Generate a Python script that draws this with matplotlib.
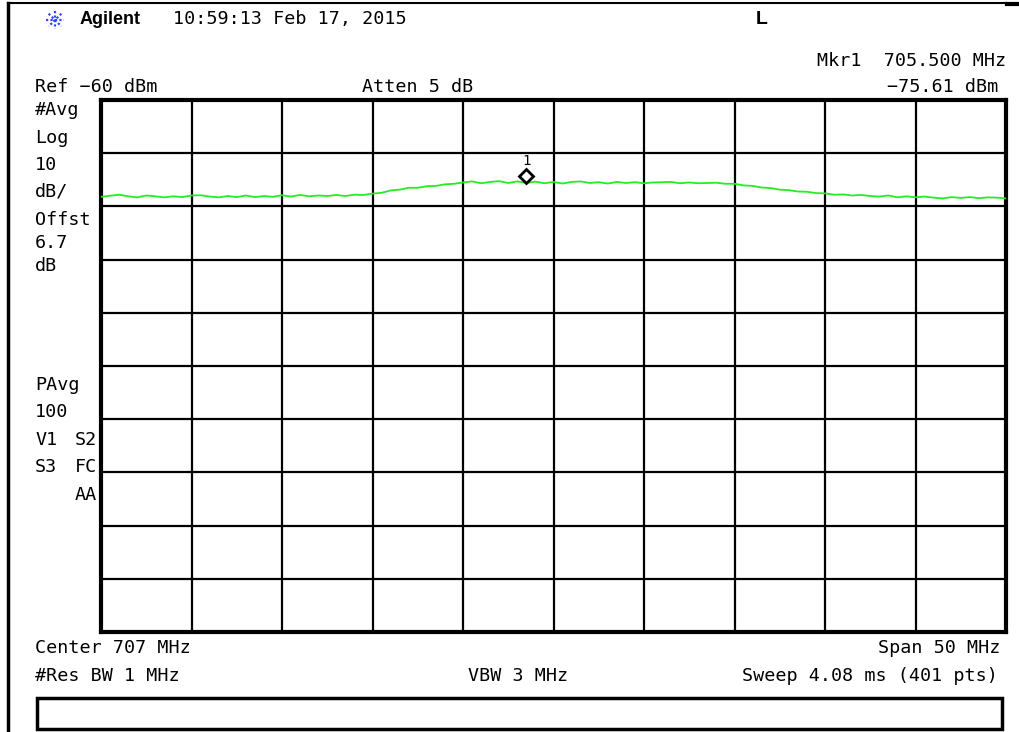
import math
import matplotlib
matplotlib.use("Agg")
import matplotlib.pyplot as plt
import matplotlib.transforms as mtransforms
from matplotlib.lines import Line2D
from matplotlib.patches import Rectangle

# ---- data ----
freq_mhz = [682.0 + 0.5 * i for i in range(101)]
level_dbm = [
    -78.2, -78.0, -77.8, -78.1, -78.3, -77.95, -78.1, -78.3, -78.1, -78.25,
    -77.95, -77.9, -78.15, -78.3, -78.05, -78.25, -77.95, -78.25, -78.05, -78.2,
    -77.9, -78.15, -77.85, -78.1, -77.95, -78.05, -77.85, -78.05, -77.8, -77.85,
    -77.6, -77.45, -77.0, -76.85, -76.5, -76.5, -76.2, -76.15, -75.85, -75.75,
    -75.5, -75.3, -75.65, -75.4, -75.25, -75.6, -75.3, -75.61, -75.35, -75.65,
    -75.4, -75.7, -75.4, -75.3, -75.6, -75.45, -75.7, -75.4, -75.6, -75.45,
    -75.65, -75.5, -75.45, -75.4, -75.65, -75.5, -75.65, -75.6, -75.55, -75.75,
    -75.75, -76.05, -76.15, -76.45, -76.55, -76.85, -76.95, -77.2, -77.25, -77.5,
    -77.55, -77.8, -77.75, -77.95, -77.85, -78.05, -78.15, -77.95, -78.3, -78.1,
    -78.3, -78.15, -78.35, -78.5, -78.25, -78.4, -78.25, -78.45, -78.3, -78.35,
    -78.5,
]
marker_freq = 705.5
marker_level = -75.61
center_mhz = 707
span_mhz = 50
ref_dbm = -60
db_per_div = 10

left_labels = ["#Avg", "Log", "10", "dB/", "Offst", "6.7", "dB"]
left_label_y = [110, 138, 165, 192, 220, 243, 266]

W, H = 1019, 732
fig = plt.figure(figsize=(W / 100, H / 100), dpi=100)
fig.patch.set_facecolor("white")

def fx(x):
    return x / W

def fy(y):
    return 1 - y / H

MONO = "DejaVu Sans Mono"
FS = 13.2

# ---- axes (graticule) ----
ax = fig.add_axes([fx(101), fy(632), 905 / W, 532 / H])
xmin, xmax = center_mhz - span_mhz / 2, center_mhz + span_mhz / 2
ymax = ref_dbm
ymin = ref_dbm - 10 * db_per_div
ax.set_xlim(xmin, xmax)
ax.set_ylim(ymin, ymax)
ax.set_xticks([xmin + k * span_mhz / 10 for k in range(11)])
ax.set_yticks([ymin + k * db_per_div for k in range(11)])
ax.grid(True, color="black", linewidth=1.6)
ax.tick_params(length=0, labelbottom=False, labelleft=False)
for s in ax.spines.values():
    s.set_linewidth(3)
    s.set_color("black")

ax.plot(freq_mhz, level_dbm, color="#22ee22", linewidth=1.3, zorder=3)

off = mtransforms.offset_copy(ax.transData, fig=fig, x=0, y=7, units="dots")
ax.plot([marker_freq], [marker_level], marker="D", markersize=7.5,
        markerfacecolor="white", markeredgecolor="black", markeredgewidth=2,
        transform=off, zorder=4, clip_on=False)
off2 = mtransforms.offset_copy(ax.transData, fig=fig, x=0, y=22, units="dots")
ax.text(marker_freq, marker_level, "1", transform=off2, ha="center", va="center",
        fontsize=10, family=MONO)

# ---- outer frame ----
fig.add_artist(Line2D([fx(8), fx(8)], [fy(3), fy(732)], color="black", linewidth=2.5))
fig.add_artist(Line2D([fx(8), fx(1007)], [fy(3), fy(3)], color="black", linewidth=1.5))
fig.add_artist(Line2D([fx(1007), fx(1019)], [fy(3.5), fy(3.5)], color="black", linewidth=3))

# bottom message box
fig.add_artist(Rectangle((fx(37), fy(729)), (1002 - 37) / W, (729 - 698) / H,
                         fill=False, edgecolor="black", linewidth=2.5))

# ---- Agilent logo ----
cx, cy, r = 55, 20, 9
for ang in [0, 45, 90, 135]:
    a = math.radians(ang)
    fig.add_artist(Line2D([fx(cx - r * math.cos(a)), fx(cx + r * math.cos(a))],
                          [fy(cy - r * math.sin(a)), fy(cy + r * math.sin(a))],
                          color="#3344ff", linewidth=1.6, linestyle=(0, (1, 1))))
fig.text(fx(80), fy(20), "Agilent", fontsize=13, fontweight="bold",
         family="Liberation Sans", va="center", ha="left")
fig.text(fx(173), fy(19), "10:59:13 Feb 17, 2015", fontsize=FS, family=MONO,
         va="center", ha="left")
fig.text(fx(762), fy(19), "L", fontsize=14, fontweight="bold",
         family="Liberation Sans", va="center", ha="center")

# ---- header ----
fig.text(fx(1006), fy(61), "Mkr1  705.500 MHz", fontsize=FS, family=MONO,
         va="center", ha="right")
fig.text(fx(998), fy(87), "\u221275.61 dBm", fontsize=FS, family=MONO,
         va="center", ha="right")
fig.text(fx(35), fy(87), "Ref \u221260 dBm", fontsize=FS, family=MONO,
         va="center", ha="left")
fig.text(fx(362), fy(87), "Atten 5 dB", fontsize=FS, family=MONO,
         va="center", ha="left")

# ---- left annotation column ----
for lab, yy in zip(left_labels, left_label_y):
    fig.text(fx(35), fy(yy), lab, fontsize=FS, family=MONO, va="center", ha="left")
fig.text(fx(35), fy(385), "PAvg", fontsize=FS, family=MONO, va="center", ha="left")
fig.text(fx(35), fy(412), "100", fontsize=FS, family=MONO, va="center", ha="left")
fig.text(fx(35), fy(440), "V1", fontsize=FS, family=MONO, va="center", ha="left")
fig.text(fx(97), fy(440), "S2", fontsize=FS, family=MONO, va="center", ha="right")
fig.text(fx(35), fy(467), "S3", fontsize=FS, family=MONO, va="center", ha="left")
fig.text(fx(97), fy(467), "FC", fontsize=FS, family=MONO, va="center", ha="right")
fig.text(fx(97), fy(495), "AA", fontsize=FS, family=MONO, va="center", ha="right")

# ---- footer ----
fig.text(fx(35), fy(648), "Center 707 MHz", fontsize=FS, family=MONO, va="center", ha="left")
fig.text(fx(1000), fy(648), "Span 50 MHz", fontsize=FS, family=MONO, va="center", ha="right")
fig.text(fx(35), fy(676), "#Res BW 1 MHz", fontsize=FS, family=MONO, va="center", ha="left")
fig.text(fx(468), fy(676), "VBW 3 MHz", fontsize=FS, family=MONO, va="center", ha="left")
fig.text(fx(998), fy(676), "Sweep 4.08 ms (401 pts)", fontsize=FS, family=MONO,
         va="center", ha="right")

fig.savefig("out.png", dpi=100, facecolor="white")
